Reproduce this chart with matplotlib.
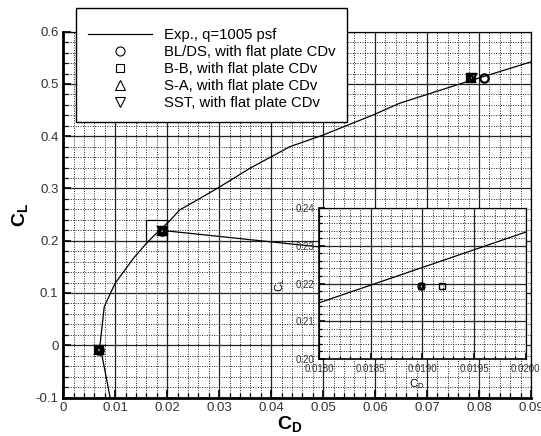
import numpy as np
import matplotlib
matplotlib.use('Agg')
import matplotlib.pyplot as plt
from matplotlib.lines import Line2D
from matplotlib.patches import Rectangle
from matplotlib.ticker import MultipleLocator, FuncFormatter

plt.rcParams['font.family'] = ['Liberation Sans', 'DejaVu Sans']
plt.rcParams['mathtext.fontset'] = 'custom'
plt.rcParams['mathtext.rm'] = 'Liberation Sans'
plt.rcParams['mathtext.bf'] = 'Liberation Sans:bold'

# experimental drag polar, q=1005 psf
exp_cd = [0.0094, 0.00706, 0.00788, 0.00994, 0.01346, 0.0160, 0.0175, 0.0205,
          0.0224, 0.0263, 0.0302, 0.0359, 0.0436, 0.0500, 0.0596, 0.0647,
          0.0763, 0.0901]
exp_cl = [-0.12, 0.0, 0.0737, 0.118, 0.166, 0.195, 0.2102, 0.2383,
          0.259, 0.281, 0.3036, 0.3386, 0.380, 0.4023, 0.4406, 0.4630,
          0.500, 0.5426]

# computations, with flat plate CDv
bl_cd = [0.0068, 0.01899, 0.0810]
bl_cl = [-0.0096, 0.2193, 0.512]
bb_cd = [0.0068, 0.01919, 0.0785]
bb_cl = [-0.0096, 0.2193, 0.512]
sa_cd = [0.0068, 0.01899, 0.0785]
sa_cl = [-0.0096, 0.2193, 0.512]
sst_cd = [0.0068, 0.01899, 0.0786]
sst_cl = [-0.0096, 0.2193, 0.512]

labels = ['Exp., q=1005 psf', 'BL/DS, with flat plate CDv', 'B-B, with flat plate CDv',
          'S-A, with flat plate CDv', 'SST, with flat plate CDv']

W, H = 541, 436
fig = plt.figure(figsize=(W / 100, H / 100), dpi=100)


def fbox(l, t, r, b):
    return [l / W, 1 - b / H, (r - l) / W, (b - t) / H]


def style(ax, lw_lb, ms_maj, ms_min, fs):
    ax.grid(which='major', color='#222222', lw=0.9, ls='-')
    ax.grid(which='minor', color='#222222', lw=0.7, ls=(0, (1, 1.5)))
    ax.set_axisbelow(True)
    ax.tick_params(which='both', direction='in', top=False, right=False,
                   labelsize=fs, labelcolor='#333333', width=1.2)
    ax.tick_params(which='major', length=ms_maj)
    ax.tick_params(which='minor', length=ms_min, width=0.9)
    for s in ['left', 'bottom']:
        ax.spines[s].set_linewidth(lw_lb)
    for s in ['top', 'right']:
        ax.spines[s].set_linewidth(0.9)


def plot_all(ax, ms, mew):
    ax.plot(exp_cd, exp_cl, color='black', lw=0.9, zorder=3)
    ax.plot(bl_cd, bl_cl, 'o', mfc='none', mec='black', ms=ms, mew=mew, zorder=4)
    ax.plot(bb_cd, bb_cl, 's', mfc='none', mec='black', ms=ms - 0.5, mew=mew, zorder=4)
    ax.plot(sa_cd, sa_cl, '^', mfc='none', mec='black', ms=ms, mew=mew, zorder=4)
    ax.plot(sst_cd, sst_cl, 'v', mfc='none', mec='black', ms=ms, mew=mew, zorder=4)


# main axes
ax = fig.add_axes(fbox(63.3, 31.7, 531, 397.5))
plot_all(ax, 6, 1.6)
ax.add_patch(Rectangle((0.016, 0.20), 0.004, 0.04, fill=False, ec='black', lw=0.9, zorder=3))
ax.plot([0.0195, 0.0494], [0.2192, 0.188], color='black', lw=0.9, zorder=3)
ax.set_xlim(0, 0.09)
ax.set_ylim(-0.1, 0.6)
ax.xaxis.set_major_locator(MultipleLocator(0.01))
ax.xaxis.set_minor_locator(MultipleLocator(0.002))
ax.yaxis.set_major_locator(MultipleLocator(0.1))
ax.yaxis.set_minor_locator(MultipleLocator(0.02))
ax.xaxis.set_major_formatter(FuncFormatter(lambda v, p: '%g' % round(v, 4)))
ax.yaxis.set_major_formatter(FuncFormatter(lambda v, p: '%g' % round(v, 4)))
style(ax, 2.0, 6, 3.5, 9.5)
ax.set_xlabel(r'$\mathbf{C_D}$', fontsize=14)
ax.set_ylabel(r'$\mathbf{C_L}$', fontsize=14)
ax.xaxis.set_label_coords(0.485, -0.045)
ax.yaxis.set_label_coords(-0.072, 0.5)

# legend
handles = [Line2D([], [], color='black', lw=0.9),
           Line2D([], [], marker='o', ls='none', mfc='none', mec='black', ms=6.5, mew=0.8),
           Line2D([], [], marker='s', ls='none', mfc='none', mec='black', ms=6, mew=0.8),
           Line2D([], [], marker='^', ls='none', mfc='none', mec='black', ms=6.5, mew=0.8),
           Line2D([], [], marker='v', ls='none', mfc='none', mec='black', ms=6.5, mew=0.8)]
leg = ax.legend(handles, labels, loc='upper left', bbox_to_anchor=(76 / W, 1 - 8 / H),
                bbox_transform=fig.transFigure, fontsize=10.7, frameon=True, fancybox=False,
                edgecolor='black', framealpha=1, borderaxespad=0, borderpad=0.8,
                handlelength=4.3, handletextpad=0.8, labelspacing=0.2,
                title=' ', title_fontsize=3.5)
leg.get_frame().set_linewidth(1.0)
leg.set_zorder(10)

# inset
axi = fig.add_axes(fbox(319, 208, 525.7, 359))
axi.set_facecolor('white')
axi.set_zorder(5)
plot_all(axi, 5, 1.0)
axi.set_xlim(0.018, 0.020)
axi.set_ylim(0.20, 0.24)
axi.xaxis.set_major_locator(MultipleLocator(0.0005))
axi.xaxis.set_minor_locator(MultipleLocator(0.0001))
axi.yaxis.set_major_locator(MultipleLocator(0.01))
axi.yaxis.set_minor_locator(MultipleLocator(0.002))
axi.xaxis.set_major_formatter(FuncFormatter(lambda v, p: '%.4f' % v))
axi.yaxis.set_major_formatter(FuncFormatter(lambda v, p: '%.2f' % v))
style(axi, 1.2, 4, 2.5, 7)
axi.set_xlabel(r'$\mathrm{C_D}$', fontsize=8)
axi.set_ylabel(r'$\mathrm{C_L}$', fontsize=8)
axi.xaxis.set_label_coords(0.474, -0.12)
axi.yaxis.set_label_coords(-0.155, 0.49)

fig.savefig('out.png', dpi=100)
